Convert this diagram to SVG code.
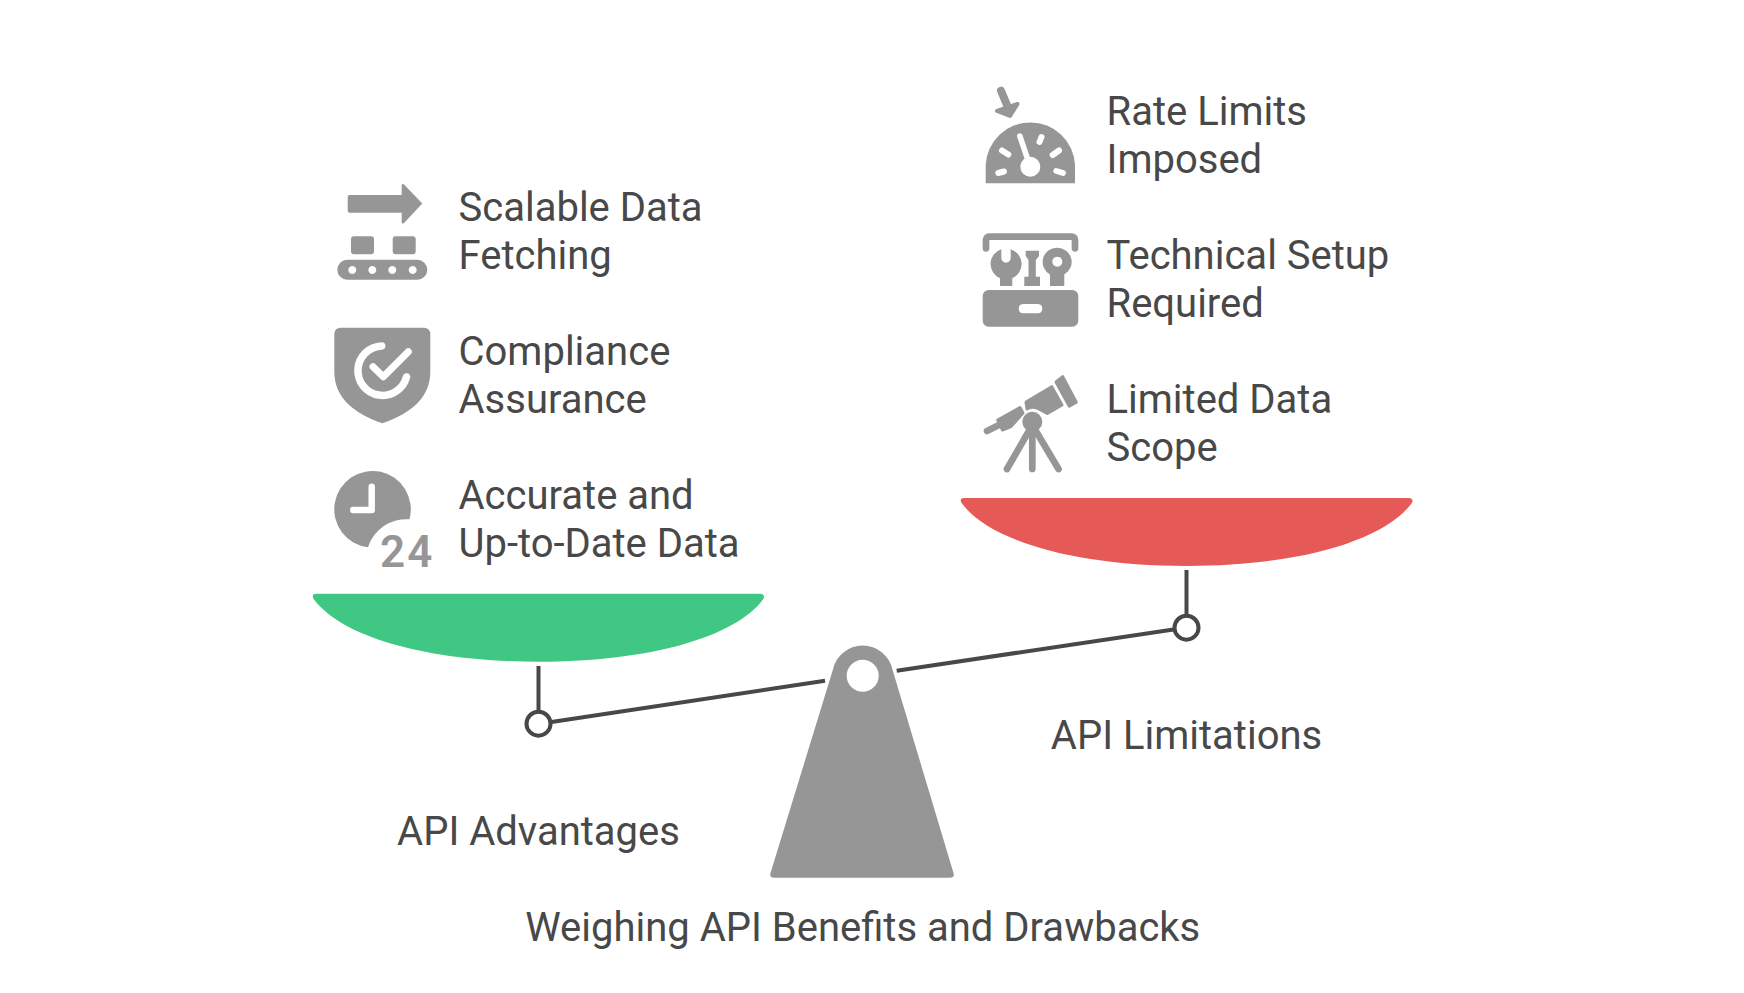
<svg xmlns="http://www.w3.org/2000/svg" width="1744" height="993" viewBox="0 0 1744 993">
<style>
text{font-family:Roboto,"Liberation Sans",sans-serif;font-size:40px;fill:#484848}
.c{text-anchor:middle}
.g{fill:#969696}
.gs{fill:none;stroke:#969696;stroke-linecap:round;stroke-linejoin:round}
.w{fill:none;stroke:#fff;stroke-linecap:round;stroke-linejoin:round}
.ln{fill:none;stroke:#484848;stroke-width:4}
</style>
<rect width="1744" height="993" fill="#fff"/>
<g id="connectors">
<line class="ln" x1="538.5" y1="666" x2="538.5" y2="710"/>
<line class="ln" x1="1186.5" y1="570" x2="1186.5" y2="614"/>
<line class="ln" x1="551.5" y1="722" x2="825" y2="680.7"/>
<line class="ln" x1="896.7" y1="670.7" x2="1173.5" y2="629.5"/>
<circle class="ln" cx="538.5" cy="723.7" r="12" fill="#fff"/>
<circle class="ln" cx="1186.5" cy="627.7" r="12" fill="#fff"/>
</g>
<g id="bowl-advantages"><path d="M316,593.7H760C764,593.7 765,597 763,599.5C735,637 650,661.7 538.5,661.7C427,661.7 342,637 314,599.5C312,597 312,593.7 316,593.7Z" fill="#41c784"/></g>
<g id="bowl-limitations"><path d="M964,498H1408.5C1412.5,498 1413.5,501 1411.5,503.5C1383,541 1298,566 1186.5,566C1075,566 990,541 962,503.5C960,501 960,498 964,498Z" fill="#e55a57"/></g>
<g id="fulcrum"><path d="M832.8,670A30.5,30.5 0 0 1 892.6,670L953.5,873C954.5,876 953,877.7 950,877.7H774C771,877.7 769.5,876 770.5,873Z" class="g"/><circle cx="862.7" cy="675.7" r="16" fill="#fff"/></g>
<g id="node-scalable">
<path class="g" d="M349.7,195H401.7V185.5C401.7,184 403,183.5 404,184.5L422.3,203.5L404,223C403,224 401.7,223.5 401.7,222V212.7H349.7A2,2 0 0 1 347.7,210.7V197A2,2 0 0 1 349.7,195Z"/>
<rect class="g" x="351" y="236.3" width="23" height="18" rx="3"/>
<rect class="g" x="392.7" y="236.3" width="23" height="18" rx="3"/>
<path class="g" fill-rule="evenodd" d="M347.3,259.7H417.3A10,10 0 0 1 417.3,279.7H347.3A10,10 0 0 1 347.3,259.7ZM352.3,266a4,4 0 1 0 .01,0ZM372.3,266a4,4 0 1 0 .01,0ZM392.3,266a4,4 0 1 0 .01,0ZM412.7,266a4,4 0 1 0 .01,0Z"/>
<text x="458.5" y="221">Scalable Data</text><text x="458.5" y="269">Fetching</text>
</g>
<g id="node-compliance">
<path class="g" d="M341,327.7H424A6,6 0 0 1 430.3,334V372C430.3,398 410,414 382.3,423.3C355,414 334.3,398 334.3,372V334A6,6 0 0 1 341,327.7Z"/>
<path class="w" stroke-width="7.5" d="M381.7,346A24.7,24.7 0 1 0 406.5,377"/>
<path class="w" stroke-width="7" d="M373,366.7L383.3,376.7L408.3,351.7"/>
<text x="458.5" y="365">Compliance</text><text x="458.5" y="413">Assurance</text>
</g>
<g id="node-accurate">
<path class="g" d="M409.5,519.3A38.3,38.3 0 1 0 368,547.3A40,40 0 0 1 409.5,519.3Z"/>
<path class="w" stroke-width="6.5" d="M371.7,486.7V510H353.3"/>
<text x="380" y="566.7" style="font-size:44px;font-weight:600;fill:#969696;letter-spacing:2px">24</text>
<text x="458.5" y="509">Accurate and</text><text x="458.5" y="557">Up-to-Date Data</text>
</g>
<g id="node-rate">
<path class="gs" stroke-width="8" d="M1001,90.7L1007.7,106.7"/>
<path class="g" stroke="#969696" stroke-width="4" stroke-linejoin="round" d="M997,111L1017.5,104L1010,116Z"/>
<path class="g" d="M985.7,183.3V165A44.7,44.7 0 0 1 1075,165V183.3Z"/>
<circle cx="1030.3" cy="166.7" r="10" fill="#fff"/>
<path class="w" stroke-width="5.5" d="M1030,166L1019.8,136"/>
<path class="w" stroke-width="6" d="M1039.5,142L1041.5,137M1002,150.5L1008.3,154.5M1052.7,155L1059,150.5M998.3,173L1004,171.5M1056.3,171L1063,173"/>
<text x="1106.5" y="125">Rate Limits</text><text x="1106.5" y="173">Imposed</text>
</g>
<g id="node-setup">
<path class="gs" stroke-width="6.7" d="M986,248.3V239.7A3,3 0 0 1 989,236.7H1072A3,3 0 0 1 1075,239.7V248.3"/>
<path class="g" fill-rule="evenodd" d="M988.7,290H1072.3A6,6 0 0 1 1078.3,296V320.7A6,6 0 0 1 1072.3,326.7H988.7A6,6 0 0 1 982.7,320.7V296A6,6 0 0 1 988.7,290ZM1023,304A4.67,4.67 0 0 0 1023,313.3H1038A4.67,4.67 0 0 0 1038,304Z"/>
<path class="g" d="M1001.3,249.2V258A4.7,4.7 0 0 0 1010.7,258V249.2A15.5,15.5 0 0 1 1012.3,278.2V286H1000V278.2A15.5,15.5 0 0 1 1001.3,249.2Z"/>
<path class="g" d="M1025.7,250.7H1039V256L1035.8,260V276.7H1040V286H1024.3V276.7H1028.5V260L1025.7,256Z"/>
<path class="g" fill-rule="evenodd" d="M1057.3,247.7A14.3,14.3 0 0 1 1064.3,274.5V286H1050V274.5A14.3,14.3 0 0 1 1057.3,247.7ZM1057.3,256.7a5,5 0 1 0 .01,0Z"/>
<text x="1106.5" y="269">Technical Setup</text><text x="1106.5" y="317">Required</text>
</g>
<g id="node-scope">
<path class="g" stroke="#969696" stroke-width="3" stroke-linejoin="round" d="M1026,402L1051.7,386.7L1062,405L1047.3,413.5L1037,408A12,12 0 0 0 1027,409Z"/>
<path class="g" stroke="#969696" stroke-width="3" stroke-linejoin="round" d="M1056,382L1062.7,376.7L1076.3,402.3L1069.3,406.3Z"/>
<path class="g" stroke="#969696" stroke-width="3" stroke-linejoin="round" d="M997.7,420L1020,407.5L1023,413L1011,426.5L1002.5,430Z"/>
<path class="gs" stroke-width="6.5" d="M987,431L999,425"/>
<circle class="g" cx="1032.3" cy="421.7" r="10"/>
<path class="gs" stroke-width="6.7" d="M1032.3,425L1007,469M1032.3,425V469M1032.3,425L1058.5,469"/>
<text x="1106.5" y="413">Limited Data</text><text x="1106.5" y="461">Scope</text>
</g>
<g id="labels">
<text class="c" x="538.5" y="845">API Advantages</text>
<text class="c" x="1186.5" y="749">API Limitations</text>
<text class="c" x="862.7" y="941">Weighing API Benefits and Drawbacks</text>
</g>
</svg>
